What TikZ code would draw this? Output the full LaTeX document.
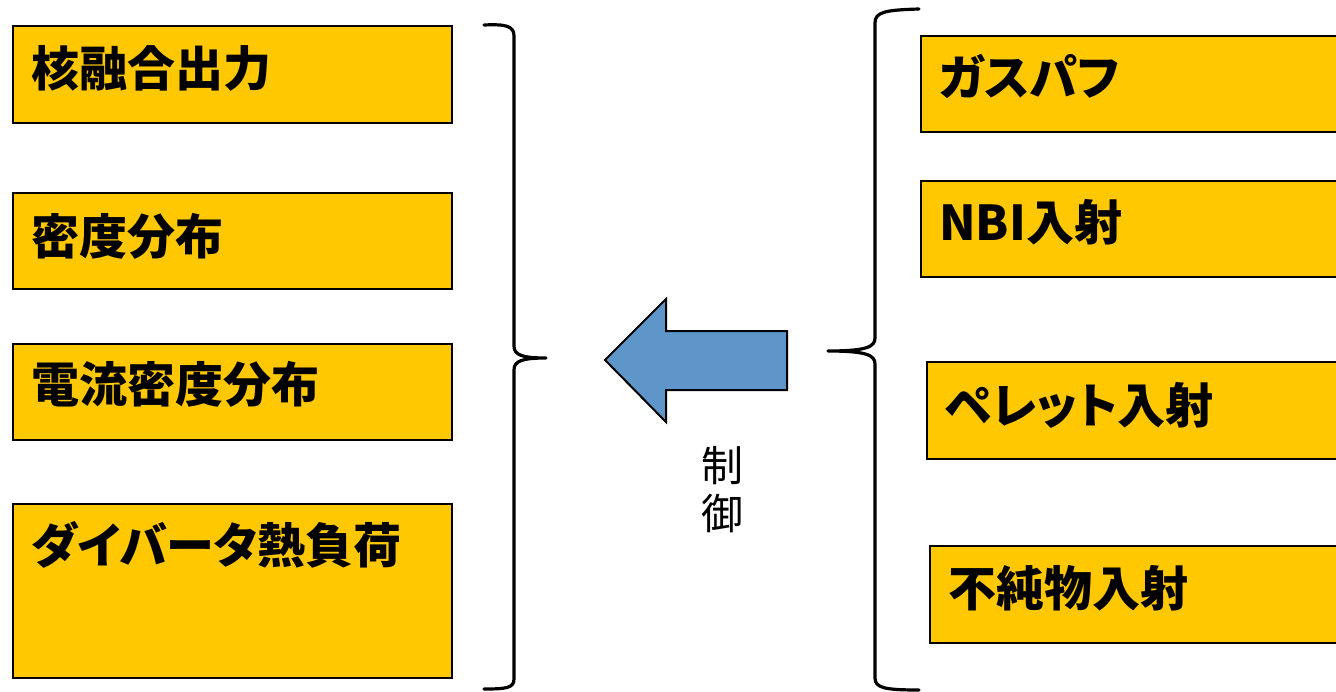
\documentclass[tikz,border=0pt]{standalone}
\usepackage{fontspec}
\newfontfamily\cjk{Noto Sans CJK JP}
\newfontfamily\cjkp[RawFeature=+palt]{Noto Sans CJK JP}
\definecolor{boxyellow}{RGB}{255,200,0}
\definecolor{arrowblue}{RGB}{95,150,202}
\begin{document}
\begin{tikzpicture}[x=1pt,y=-1pt,
  box/.style={draw=black, line width=1.8pt, fill=boxyellow, rectangle, anchor=north west, inner sep=0pt},
  lbl/.style={anchor=west, inner sep=0pt, font=\cjkp\bfseries\fontsize{48pt}{52pt}\selectfont},
  brace/.style={draw=black, line width=3.2pt, line cap=round, line join=round},
  ctl/.style={inner sep=0pt, font=\cjk\fontsize{42pt}{48pt}\selectfont, align=center}]
\useasboundingbox (0,0) rectangle (1336,691);
\clip (0,0) rectangle (1336,691);
% left boxes
\node[box, minimum width=439pt, minimum height=97pt] (L1) at (12,25) {};
\node[box, minimum width=439pt, minimum height=96pt] (L2) at (12,192) {};
\node[box, minimum width=439pt, minimum height=96pt] (L3) at (12,343) {};
\node[box, minimum width=439pt, minimum height=174pt] (L4) at (12,503) {};
\node[lbl] (t1) at (31,68) {核融合出力};
\node[lbl] (t2) at (31,236) {密度分布};
\node[lbl] (t3) at (31,384) {電流密度分布};
\node[lbl] (t4) at (31,545) {ダイバータ熱負荷};
% right boxes
\node[box, minimum width=430pt, minimum height=96pt] (R1) at (920,35) {};
\node[box, minimum width=430pt, minimum height=96pt] (R2) at (920,180) {};
\node[box, minimum width=430pt, minimum height=97pt] (R3) at (926,361) {};
\node[box, minimum width=430pt, minimum height=97pt] (R4) at (929,545) {};
\node[lbl] (s1) at (939,76) {ガスパフ};
\node[lbl] (s2) at (939,222) {NBI入射};
\node[lbl] (s3) at (945,405) {ペレット入射};
\node[lbl] (s4) at (948,588) {不純物入射};
% left brace
\coordinate (lb) at (546,358);
\draw[brace] (484,25) .. controls (506,24) and (514,26) .. (514,36) -- (514,346)
  .. controls (514,355) and (522,358) .. (lb)
  .. controls (522,358) and (514,361) .. (514,370) -- (514,679)
  .. controls (514,688) and (506,689) .. (484,689);
% right brace
\coordinate (rb) at (828,351);
\draw[brace] (919,9) .. controls (885,10) and (875,12) .. (875,23) -- (875,338)
  .. controls (875,347) and (866,351) .. (rb)
  .. controls (866,351) and (875,355) .. (875,364) -- (875,678)
  .. controls (875,688) and (885,690) .. (919,690);
% arrow
\draw[line width=2pt, fill=arrowblue, line join=miter] (605,360) -- (666,299) -- (666,331) -- (787,331)
  -- (787,390) -- (666,390) -- (666,422) -- cycle;
\node[ctl] (c) at (722,490) {制\\御};
\end{tikzpicture}
\end{document}
